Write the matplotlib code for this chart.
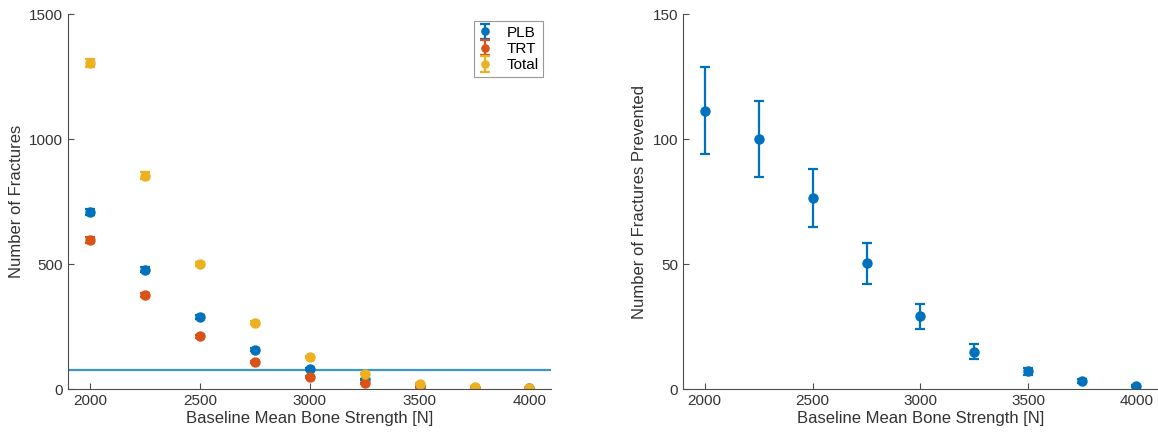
import matplotlib.pyplot as plt
import numpy as np

plt.rcParams['font.family'] = ['Liberation Sans', 'DejaVu Sans']

# baseline mean bone strength [N]
strength = [2000, 2250, 2500, 2750, 3000, 3250, 3500, 3750, 4000]

# left panel: number of fractures
plb = [707, 477, 289, 158, 80, 39, 13, 6, 3]
plb_err = [12, 10, 7, 5, 3, 2, 1, 1, 0.5]
trt = [596, 377, 212, 108, 49, 23, 9, 4, 1]
trt_err = [11, 9, 6, 4, 3, 2, 1, 0.5, 0.5]
total = [1303, 854, 501, 266, 129, 62, 22, 10, 4]
total_err = [16, 13, 9, 6, 4, 3, 2, 1, 1]
threshold = 76

# right panel: fractures prevented
prevented = [111.3, 100.1, 76.4, 50.3, 29.1, 14.9, 7.1, 3.2, 1.3]
prev_lo = [94.0, 85.0, 64.8, 42.2, 24.1, 12.1, 5.7, 2.5, 0.9]
prev_hi = [128.7, 115.4, 88.0, 58.6, 34.1, 18.0, 8.3, 3.9, 1.7]

blue = '#0072BD'
orange = '#D95319'
yellow = '#EDB120'
axcol = '#4d4d4d'
txtcol = '#333333'

fig = plt.figure(figsize=(11.58, 4.37), dpi=100)
ax1 = fig.add_axes([0.0587, 0.1098, 0.4175, 0.858])
ax2 = fig.add_axes([0.5898, 0.1098, 0.4102, 0.858])

kw = dict(fmt='o', markersize=6.5, capsize=3.5, elinewidth=1.6, capthick=1.6)
ax1.errorbar(strength, plb, yerr=plb_err, color=blue, label='PLB', **kw)
ax1.errorbar(strength, trt, yerr=trt_err, color=orange, label='TRT', **kw)
ax1.errorbar(strength, total, yerr=total_err, color=yellow, label='Total', **kw)
ax1.axhline(threshold, color='#3b97c9', linewidth=1.6, zorder=0)
ax1.set_ylim(0, 1500)
ax1.set_yticks([0, 500, 1000, 1500])
ax1.set_ylabel('Number of Fractures', fontsize=12, color=txtcol)
leg = ax1.legend(loc='upper right', fontsize=11, handlelength=0.8,
                 handletextpad=1.0, borderpad=0.3, labelspacing=0.15,
                 borderaxespad=0, markerscale=0.8,
                 fancybox=False, edgecolor='#808080', bbox_to_anchor=(0.983, 0.981))
leg.get_frame().set_linewidth(0.8)

prev = np.array(prevented)
yerr = [prev - np.array(prev_lo), np.array(prev_hi) - prev]
ax2.errorbar(strength, prevented, yerr=yerr, color=blue, **kw)
ax2.set_ylim(0, 150)
ax2.set_yticks([0, 50, 100, 150])
ax2.set_ylabel('Number of Fractures Prevented', fontsize=12, color=txtcol)

for ax in (ax1, ax2):
    ax.set_xlim(1900, 4100)
    ax.set_xticks([2000, 2500, 3000, 3500, 4000])
    ax.set_xlabel('Baseline Mean Bone Strength [N]', fontsize=12, color=txtcol, labelpad=2)
    ax.spines['top'].set_visible(False)
    ax.spines['right'].set_visible(False)
    for s in ('left', 'bottom'):
        ax.spines[s].set_color(axcol)
        ax.spines[s].set_linewidth(0.8)
    ax.tick_params(direction='in', length=4, width=0.8, color=axcol,
                   labelsize=11, labelcolor=txtcol)

fig.savefig('out.png', dpi=100)
